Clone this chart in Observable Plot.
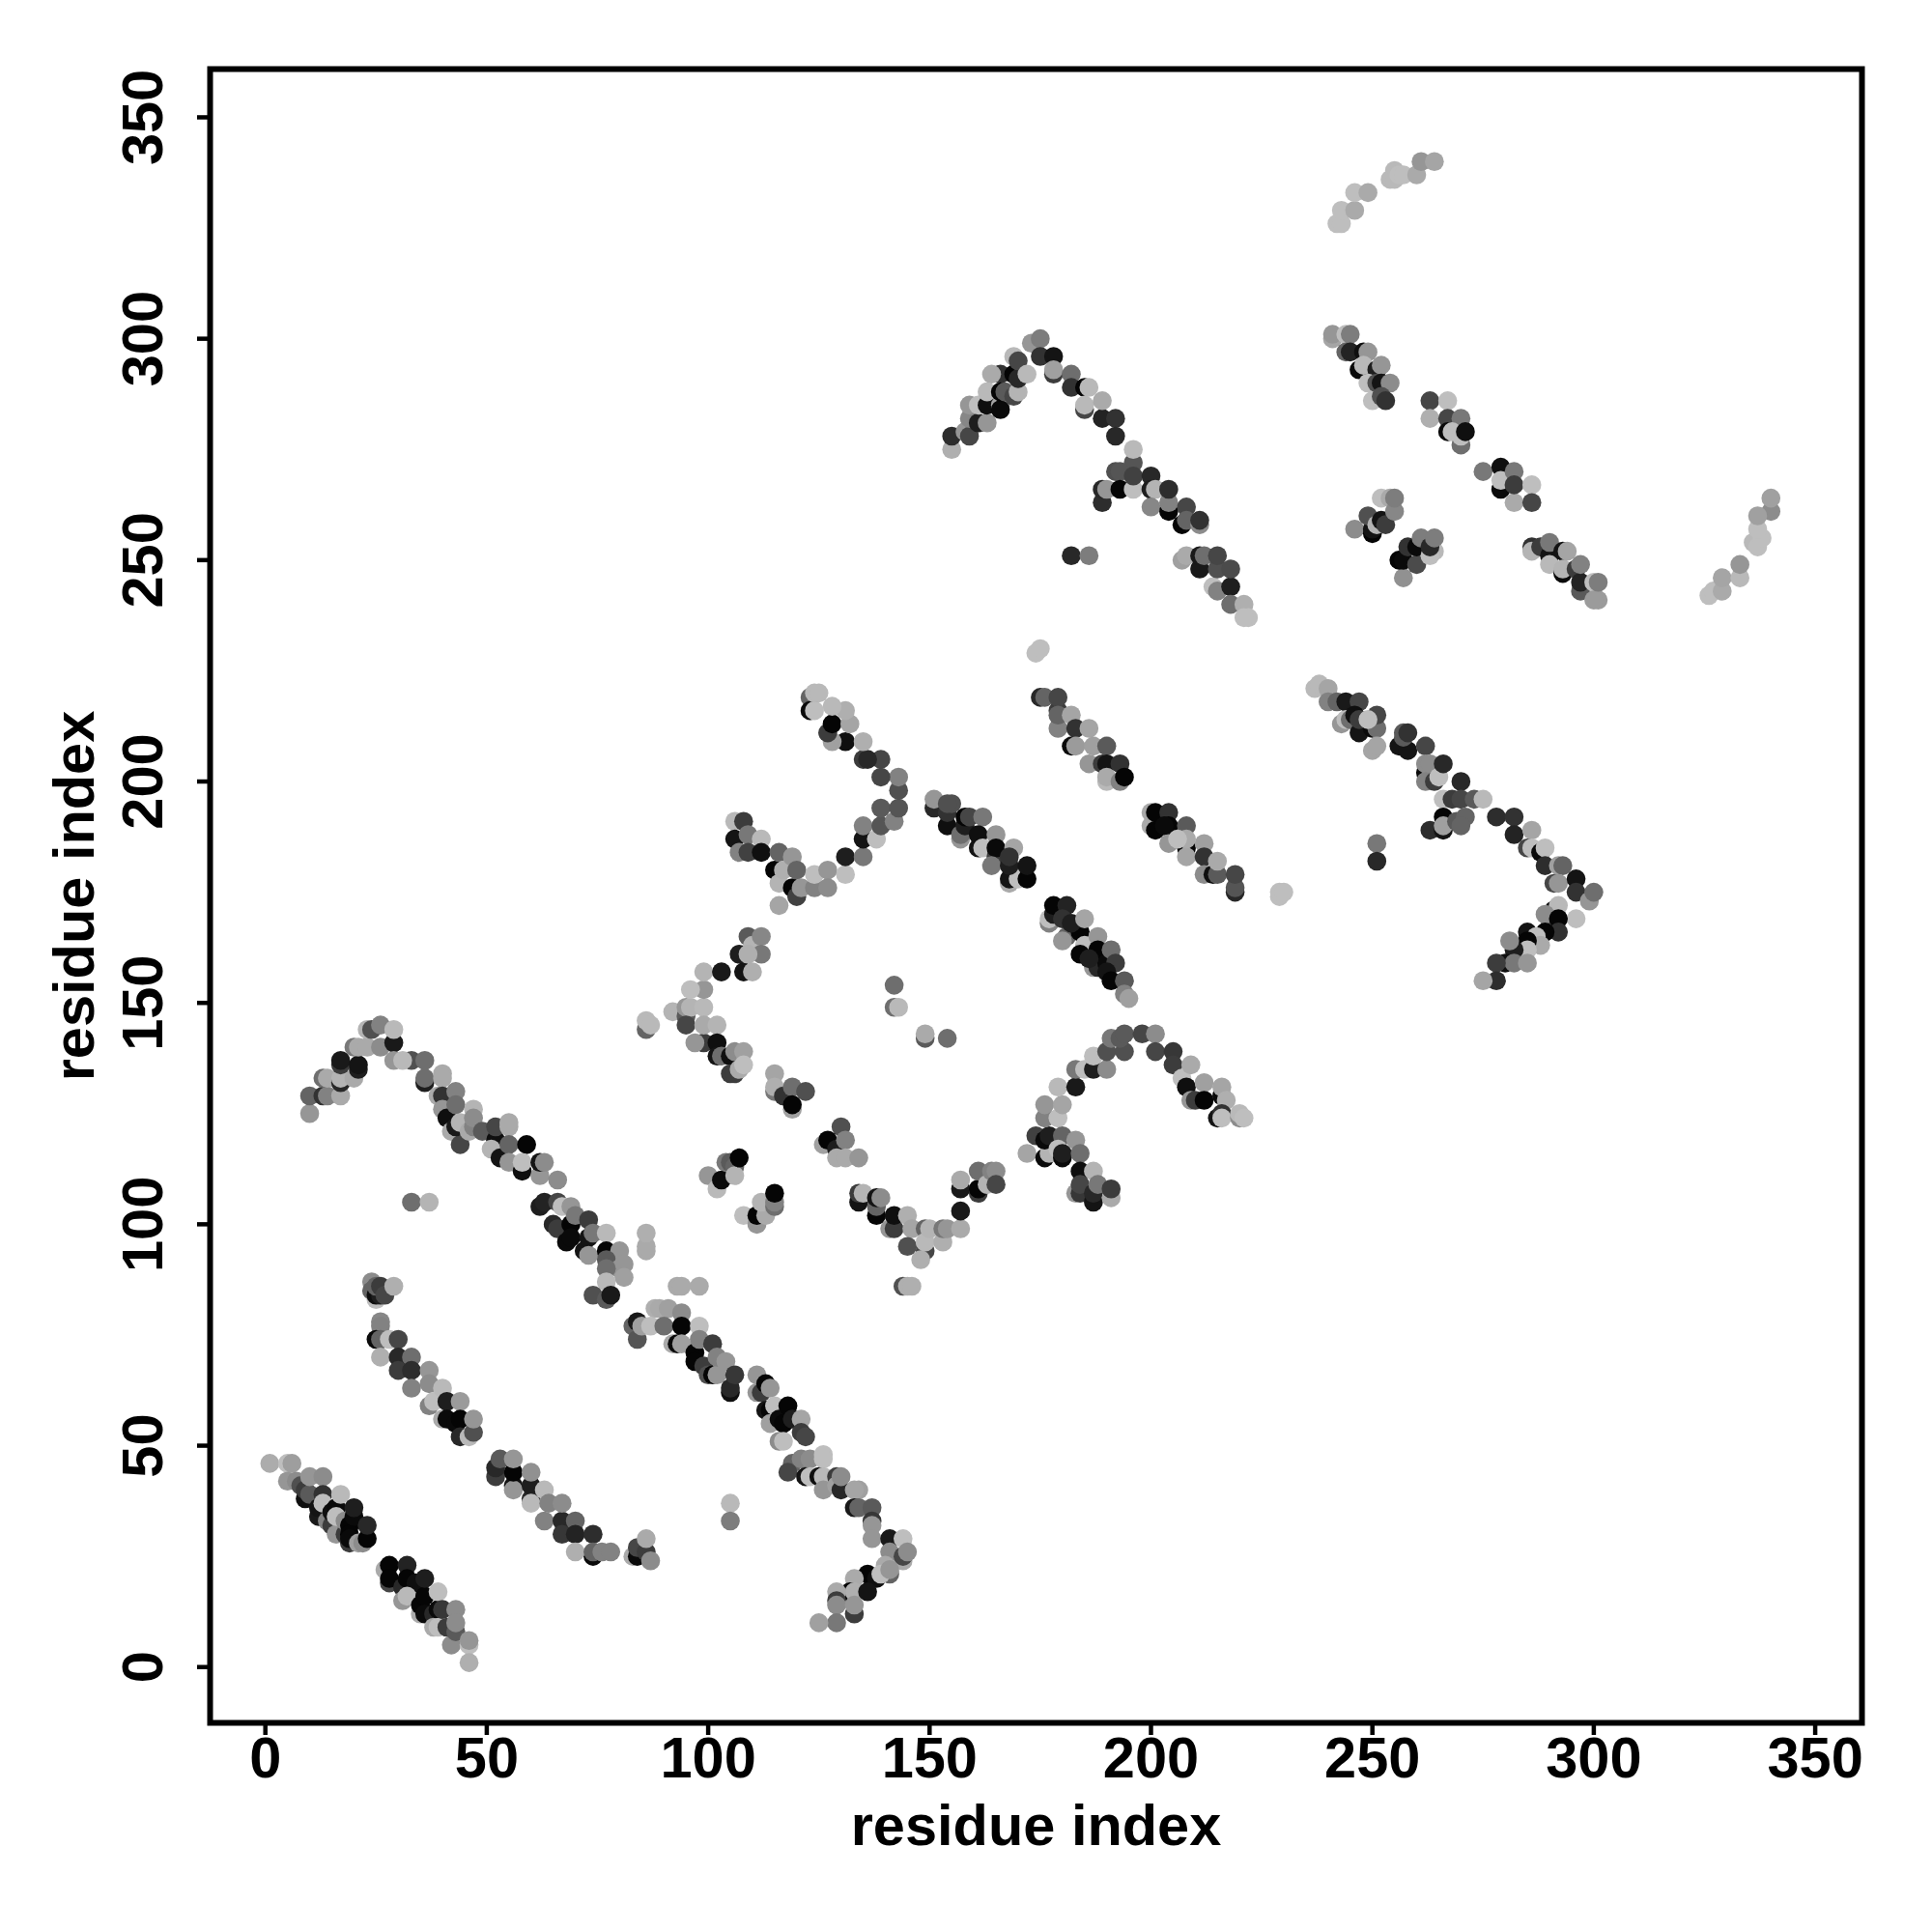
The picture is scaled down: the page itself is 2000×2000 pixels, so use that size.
<!DOCTYPE html>
<html><head><meta charset="utf-8">
<script src="https://cdn.jsdelivr.net/npm/d3@7"></script>
<script src="https://cdn.jsdelivr.net/npm/@observablehq/plot@0.6"></script>
<style>html,body{margin:0;padding:0;background:#fff}svg{display:block;overflow:visible}</style>
</head><body><div id="c"></div>
<script>
// each contact: [residue i, residue j, grey shade 0-255]
const helixA=[[1,46,172],[5,46,190],[6,46,158],[5,42,150],[7,42,140],[9,38,15],[8,41,80],[9,40,60],[10,39,90],[10,43,150],[13,43,140],[12,34,25],[12,36,20],[13,39,50],[13,37,190],[14,33,130],[15,32,60],[15,35,15],[16,30,150],[16,36,10],[16,34,190],[17,39,185],[18,30,60],[18,33,140],[19,28,60],[19,32,5],[19,30,5],[19,29,10],[20,34,10],[20,36,30],[21,28,160],[22,28,140],[23,29,5],[23,32,40]];
const helixB=[[27,22,170],[28,19,70],[28,23,5],[28,20,5],[31,18,40],[32,23,35],[31,15,150],[32,20,5],[34,19,15],[32,16,185],[35,12,170],[35,14,5],[36,16,5],[36,20,30],[36,12,10],[38,12,40],[38,9,170],[39,13,10],[39,9,190],[39,17,190],[40,13,55],[42,5,140],[41,9,60],[43,8,90],[43,13,140],[43,10,140],[46,5,190],[46,6,150],[46,1,175]];
const cornerC=[[24,87,140],[24,85,100],[25,83,190],[25,84,15],[26,84,30],[25,86,100],[26,86,60],[27,84,70],[29,86,175]];
const helixD=[[26,78,135],[26,77,130],[25,74,10],[26,74,100],[28,74,190],[30,74,70],[26,70,175],[30,70,40],[33,70,110],[30,67,60],[33,67,45],[37,67,150],[33,63,130],[37,59,130],[37,64,140],[40,56,170],[38,60,190],[40,63,185],[41,60,30],[41,56,10],[44,60,155],[43,55,10],[44,56,5],[44,52,40],[46,52,185],[47,53,80],[47,56,150]];
const helixE=[[52,43,60],[52,45,40],[53,47,90],[56,41,20],[56,40,150],[56,44,5],[56,47,150],[60,38,40],[60,41,30],[60,44,145],[60,37,185],[63,40,185],[63,33,130],[67,33,40],[64,37,130],[67,37,140],[67,30,55],[70,33,100],[70,30,35],[74,25,10],[74,30,45],[70,26,175],[74,26,100],[76,26,130],[78,26,130]];
const cornerF=[[83,25,170],[84,25,10],[84,27,70],[86,26,60],[86,29,170],[87,24,140]];
const hairpinG=[[10,125,150],[10,129,100],[13,129,50],[14,129,130],[17,129,170],[13,133,110],[14,133,170],[17,132,40],[17,133,180],[20,133,170],[17,136,60],[17,137,25],[21,135,30],[21,136,20],[20,140,120],[21,140,170],[23,140,170],[26,140,140],[23,144,180],[24,144,80],[26,145,130],[29,141,25],[29,144,185],[29,137,150],[33,137,80],[31,137,185],[36,137,110],[36,132,30],[36,133,110],[40,134,170],[40,133,170],[39,129,170],[40,129,50],[43,130,130],[40,126,150],[41,124,15],[43,127,110],[42,121,170],[44,118,70],[43,122,25],[44,123,180],[47,126,180],[46,121,170],[47,122,130],[47,124,140],[49,121,90],[52,119,15],[52,122,70],[51,117,180],[55,122,170],[55,123,170],[53,115,20],[55,118,100],[55,114,150],[59,118,5],[58,112,15],[58,114,190],[62,111,150],[62,114,20],[63,114,140],[66,110,140]];
const strandH=[[62,104,30],[63,105,35],[65,100,40],[66,105,70],[67,104,190],[69,104,150],[66,99,60],[68,96,10],[69,100,5],[69,97,10],[70,102,120],[73,101,60],[72,94,20],[73,97,20],[73,93,150],[74,98,120],[77,98,185],[77,94,5],[80,94,150],[77,92,90],[80,90,150],[81,91,150],[81,88,160],[77,90,110],[77,87,185],[74,84,80],[77,83,90],[78,84,25],[86,94,170],[86,95,170],[86,98,175]];
const pairI=[[33,105,110],[37,105,180]];
const topI=[[93,86,170],[94,86,170],[98,86,170],[83,77,100],[84,78,25],[84,74,85],[88,81,175],[89,81,170],[91,81,160],[85,77,160],[87,77,190],[90,77,110],[94,80,140],[94,77,5],[92,73,170],[93,73,10],[94,73,160],[97,71,5],[97,69,5],[98,77,190],[98,74,130],[99,68,60],[100,66,80],[101,66,5],[102,66,150],[101,73,60],[102,70,130],[104,69,150],[105,62,15],[105,63,40],[106,66,55]];
const strandJ=[[111,66,150],[111,62,150],[112,62,60],[113,64,5],[114,63,150],[113,58,20],[114,58,5],[114,55,160],[115,59,190],[116,56,10],[118,59,5],[117,55,5],[116,51,140],[117,51,190],[119,56,30],[121,56,165],[121,53,60],[122,52,70],[119,46,100],[121,47,130],[123,47,140],[126,48,190],[118,44,70],[122,43,20],[123,43,190],[126,47,190],[125,43,15],[126,43,185],[126,40,150],[129,43,60],[129,41,160],[130,40,40],[130,43,140],[134,40,160],[133,40,165],[133,36,25],[134,36,100],[137,36,90],[137,33,55],[137,32,150],[137,29,150],[141,29,25],[144,29,190],[141,26,140],[144,24,170],[144,25,70],[145,26,140],[140,23,170],[141,21,100],[136,21,5],[138,20,15],[139,21,190],[141,22,150],[133,20,170],[132,17,5],[133,17,175],[136,17,20],[129,17,170],[129,15,60],[129,14,140],[133,12,60],[133,14,150],[129,10,120],[125,10,160]];
const pairK=[[105,37,185],[105,33,125]];
const strandK=[[86,144,100],[86,146,185],[87,145,185],[92,148,180],[95,147,90],[95,149,150],[96,149,180],[99,149,185],[99,153,150],[96,153,190],[99,157,180],[103,157,25],[95,145,70],[99,141,60],[97,141,150],[99,145,170],[102,145,180],[102,141,15],[102,138,20],[103,138,110],[105,138,15],[106,139,140],[108,139,160],[105,134,60],[106,134,60],[107,135,170],[108,136,190]];
const loneK=[[142,154,110],[142,149,110],[143,149,185],[149,142,90],[149,143,170],[154,142,110]];
const tripletL=[[115,130,120],[115,134,165],[115,131,175],[117,129,50],[119,131,110],[122,130,80],[119,126,160],[119,127,5]];
const tripletM=[[130,122,80],[126,118,160],[127,119,5],[129,117,30],[131,119,130],[129,115,170],[131,115,170],[134,115,150]];
const tripletN=[[100,111,150],[102,108,185],[103,110,10],[104,114,120],[105,114,90],[106,113,100],[106,111,180],[107,115,5]];
const tripletO=[[108,102,190],[111,100,150],[111,102,5],[113,102,170],[112,105,180],[115,104,110],[115,105,130],[115,107,5]];
const valleyP=[[134,105,20],[134,107,60],[135,107,180],[138,102,5],[138,104,100],[138,106,20],[139,106,140],[141,99,150],[142,99,60],[142,102,15],[145,102,175],[146,99,165],[145,95,80],[149,94,70],[149,99,100],[149,96,185],[150,99,180],[148,92,175],[153,96,175],[153,99,120],[154,99,150],[157,99,170],[157,103,25],[144,86,80],[145,86,175],[146,86,175]];
const valleyQ=[[157,108,25],[157,110,170],[161,107,60],[161,108,5],[161,112,110],[163,109,180],[164,112,130],[165,112,140],[165,109,70]];
const hairpinR=[[172,116,165],[176,115,10],[177,116,180],[174,120,65],[176,119,10],[177,120,30],[176,124,130],[179,124,190],[176,127,150],[180,127,165],[179,131,185],[183,131,25],[183,135,120],[185,135,190],[187,135,30],[190,135,140],[187,138,190],[190,139,80],[194,139,80],[191,142,120],[193,142,90],[194,143,90],[198,143,70],[201,143,140],[201,139,70],[205,139,55],[205,136,60],[207,133,190],[209,136,170],[208,131,15],[209,128,150],[210,128,60],[212,132,160],[212,128,5],[216,129,10],[216,131,165],[217,128,175],[215,124,20],[216,125,50],[216,124,190],[220,124,140],[220,125,185],[221,124,190]];
const armR=[[180,120,100],[179,117,190],[180,115,10],[180,116,30],[183,119,150],[184,116,110],[184,112,15],[187,112,180],[183,107,150],[184,107,55],[184,109,70],[187,105,20],[187,107,40],[188,109,120],[191,106,170],[191,108,60]];
const turnS=[[106,191,185],[108,191,60],[106,187,20],[107,184,130],[109,188,120],[109,184,65],[112,187,185],[112,184,15],[115,180,5],[116,184,100],[116,177,180],[117,180,175],[119,183,150],[119,176,5],[120,174,65],[120,180,100],[116,172,165],[121,176,150],[124,176,130],[124,179,190],[127,180,150],[127,176,140],[131,179,190],[131,183,30],[135,183,120],[135,187,20],[135,190,130],[138,187,190],[139,190,85],[139,194,90],[142,191,130],[143,194,85],[143,198,80],[143,201,130],[139,201,70],[139,205,70],[135,205,60],[136,205,40],[131,209,15],[128,209,160],[127,211,60],[135,209,175],[128,213,5],[132,213,165],[131,216,175],[128,217,185],[123,219,100],[123,216,10],[124,216,190],[124,220,185],[125,220,185]];
const strandT=[[107,161,30],[108,157,20],[109,165,90],[110,163,180],[110,157,175],[112,165,135],[112,161,120],[109,161,175]];
const helixU=[[151,194,40],[151,196,150],[154,190,15],[154,193,50],[155,195,80],[154,195,80],[157,187,150],[157,188,110],[158,190,30],[158,192,5],[159,192,70],[162,192,120],[161,185,20],[161,188,15],[162,185,190],[165,188,150],[165,183,60],[165,185,10],[164,181,120],[169,185,165],[168,177,170],[168,178,20],[170,178,190],[168,181,30],[168,183,50],[172,178,5],[172,181,20]];
const helixV=[[177,168,130],[177,169,190],[178,170,30],[178,172,5],[181,172,35],[180,169,50],[181,165,100],[180,164,150],[184,166,5],[182,168,30],[185,169,165],[185,163,190],[184,161,5],[188,165,150],[187,158,150],[188,158,40],[188,162,5],[190,159,10],[186,160,30],[191,162,110],[192,159,60],[190,157,20],[191,155,5],[194,155,90],[194,152,130],[195,151,160]];
const lightW=[[174,229,190],[175,230,190],[229,174,190],[229,175,190],[230,175,190]];
const helixW=[[175,219,40],[176,219,100],[179,212,130],[179,216,60],[179,219,70],[179,215,100],[182,215,165],[183,212,50],[186,212,165],[182,208,10],[183,208,155],[187,208,160],[190,208,90],[186,204,150],[189,204,60],[190,204,20],[193,204,50],[190,200,185],[190,201,170],[193,200,130],[194,201,5]];
const helixX=[[200,193,170],[200,190,170],[201,189,5],[201,193,5],[204,193,50],[204,190,5],[203,190,10],[204,186,150],[208,190,90],[208,185,5],[208,183,165],[208,187,170],[206,187,190],[212,186,160],[212,183,50],[212,179,140],[214,179,15],[215,179,90],[215,182,170],[219,175,40],[219,176,85],[219,179,70]];
const helixY=[[237,221,185],[238,222,185],[240,221,165],[240,218,130],[242,218,100],[244,218,25],[247,218,70],[243,213,150],[244,214,190],[245,214,110],[246,215,15],[247,211,20],[247,214,60],[250,212,10],[251,212,110],[250,207,165],[251,208,165],[251,215,70],[249,214,190],[256,208,20],[258,207,20],[257,211,90],[257,210,90],[258,211,50],[262,202,10],[262,208,70],[262,204,140],[263,204,140],[262,200,130],[264,200,60],[265,201,190],[266,204,40],[270,200,40],[266,196,190],[268,196,60],[270,196,70],[273,196,90],[275,196,185],[263,189,45],[266,192,5],[266,189,20],[266,190,160],[269,191,90],[271,192,100],[270,190,100]];
const elbowY=[[278,192,45],[282,192,50],[282,188,35],[286,189,165],[285,185,70],[286,185,190],[288,184,10],[289,185,190],[289,181,45],[292,181,160],[293,181,100],[291,177,70],[292,177,150],[296,178,20],[296,175,50],[299,173,150],[300,175,110],[296,169,190],[291,171,15],[292,172,185],[290,169,85],[289,170,140],[292,169,5],[292,166,50],[289,166,5],[285,166,20],[287,165,190],[288,163,170],[285,164,5],[285,162,190],[282,162,30],[281,164,140],[280,159,15],[282,159,120],[285,159,150],[278,159,60],[278,155,45],[275,155,165]];
const pairY=[[251,186,120],[251,182,40]];
const hairpinZ=[[155,275,175],[155,278,45],[158,279,150],[159,278,70],[159,282,135],[159,285,150],[161,281,30],[163,281,150],[161,285,190],[163,285,15],[163,288,185],[166,285,165],[166,284,10],[166,292,50],[164,292,170],[166,288,5],[167,288,90],[169,287,70],[170,288,180],[169,292,5],[170,291,40],[169,296,185],[170,295,70],[172,292,185],[173,299,150],[175,300,125],[175,296,50],[178,296,20],[178,292,60],[178,293,160],[182,292,110],[182,289,50],[185,289,5],[186,289,185],[185,284,70],[185,285,185],[189,282,35],[189,286,170],[192,282,50],[192,278,40]];
const peakZ=[[196,272,85],[196,275,185],[189,263,45],[189,266,40],[190,266,150],[192,270,80],[193,270,85],[193,266,5],[196,266,190],[196,269,65],[200,269,40],[200,266,30],[201,266,180],[200,262,135],[204,261,5],[204,263,130],[204,266,45],[207,258,5],[208,262,70],[208,259,100],[211,258,140],[211,259,50]];
const pairZ=[[182,251,40],[186,251,125]];
const tailZ=[[207,250,160],[208,251,170],[211,248,25],[211,251,25],[212,251,110],[214,244,190],[215,243,130],[215,248,80],[215,251,70],[218,244,30],[218,248,75],[218,240,110],[221,240,175],[222,237,190],[221,237,190]];
const archA=[[242,326,190],[243,326,190],[243,329,190],[246,329,170],[246,333,190],[249,333,170],[254,336,185],[255,338,185],[255,336,185],[256,337,190],[257,337,190],[260,337,170],[261,340,150],[264,340,165]];
const betaB=[[241,300,165],[241,301,150],[244,301,190],[245,301,125],[244,297,100],[245,297,35],[248,297,15],[249,297,150],[247,293,10],[248,294,185],[251,293,30],[252,294,150],[249,290,190],[251,290,80],[252,290,20],[254,290,140],[250,286,190],[252,287,80],[253,286,50]];
const betaC=[[263,286,70],[267,286,190],[263,282,175],[267,282,70],[270,282,120],[267,279,10],[268,279,190],[270,276,110],[270,278,190],[271,279,15]];
const betaD=[[275,270,120],[279,266,10],[279,271,15],[279,268,190],[282,270,120],[282,263,170],[282,267,60],[286,267,190],[286,263,70]];
const betaE=[[246,257,140],[250,256,5],[250,257,20],[249,260,80],[251,258,180],[252,259,20],[253,258,60],[252,264,190],[254,264,170],[255,261,135],[255,264,125]];
const betaF=[[257,246,145],[256,250,5],[257,250,10],[260,249,75],[258,253,50],[260,253,10],[261,255,125],[264,252,185],[263,251,190],[263,253,40],[264,255,125]];
const betaG=[[286,253,50],[286,252,180],[288,253,60],[290,251,20],[290,249,185],[290,254,120],[293,247,10],[293,252,20],[293,248,180],[294,252,165],[296,248,60],[297,243,90],[297,245,35],[297,249,130],[300,245,190],[301,241,155],[300,241,155],[301,245,125]];
const tailH=[[326,242,190],[327,243,190],[329,243,170],[329,246,165],[333,246,185],[333,249,150],[336,254,185],[337,253,190],[338,255,190],[337,257,190],[340,261,140],[337,260,160],[340,264,160]];

const contacts=[helixA,helixB,cornerC,helixD,helixE,cornerF,hairpinG,strandH,pairI,topI,strandJ,pairK,strandK,loneK,tripletL,tripletM,tripletN,tripletO,valleyP,valleyQ,hairpinR,armR,turnS,strandT,helixU,helixV,lightW,helixW,helixX,helixY,elbowY,pairY,hairpinZ,peakZ,pairZ,tailZ,archA,betaB,betaC,betaD,betaE,betaF,betaG,tailH].flat();
const axisTicks=[0,50,100,150,200,250,300,350];
const axisLabel="residue index";

const font='"Liberation Sans", Arial, sans-serif';
const plot=Plot.plot({
  width:2000,height:2000,
  marginLeft:217,marginRight:73,marginTop:71,marginBottom:217,
  style:{background:"#fff",overflow:"visible"},
  x:{domain:[-12.48,360.56],ticks:axisTicks},
  y:{domain:[-12.6,360.9],ticks:axisTicks},
  color:{type:"linear",domain:[0,255],range:["#000000","#ffffff"]},
  marks:[
    Plot.dot(contacts,{x:d=>d[0],y:d=>d[1],fill:d=>d[2],r:9.8,stroke:"none"}),
    Plot.frame({stroke:"#000",strokeWidth:6}),
    Plot.axisX(axisTicks,{tickSize:13,tickPadding:1,strokeWidth:4.5,fontSize:59.5,fontWeight:"bold",fontFamily:font,fill:"#000",label:axisLabel,labelAnchor:"center",labelArrow:"none",labelOffset:126}),
    Plot.axisY(axisTicks,{tickSize:13,tickPadding:37,strokeWidth:4.5,fontSize:59.5,fontWeight:"bold",fontFamily:font,fill:"#000",tickRotate:-90,label:axisLabel,labelAnchor:"center",labelArrow:"none",labelOffset:163})
  ]
});
document.getElementById("c").appendChild(plot);
</script></body></html>
